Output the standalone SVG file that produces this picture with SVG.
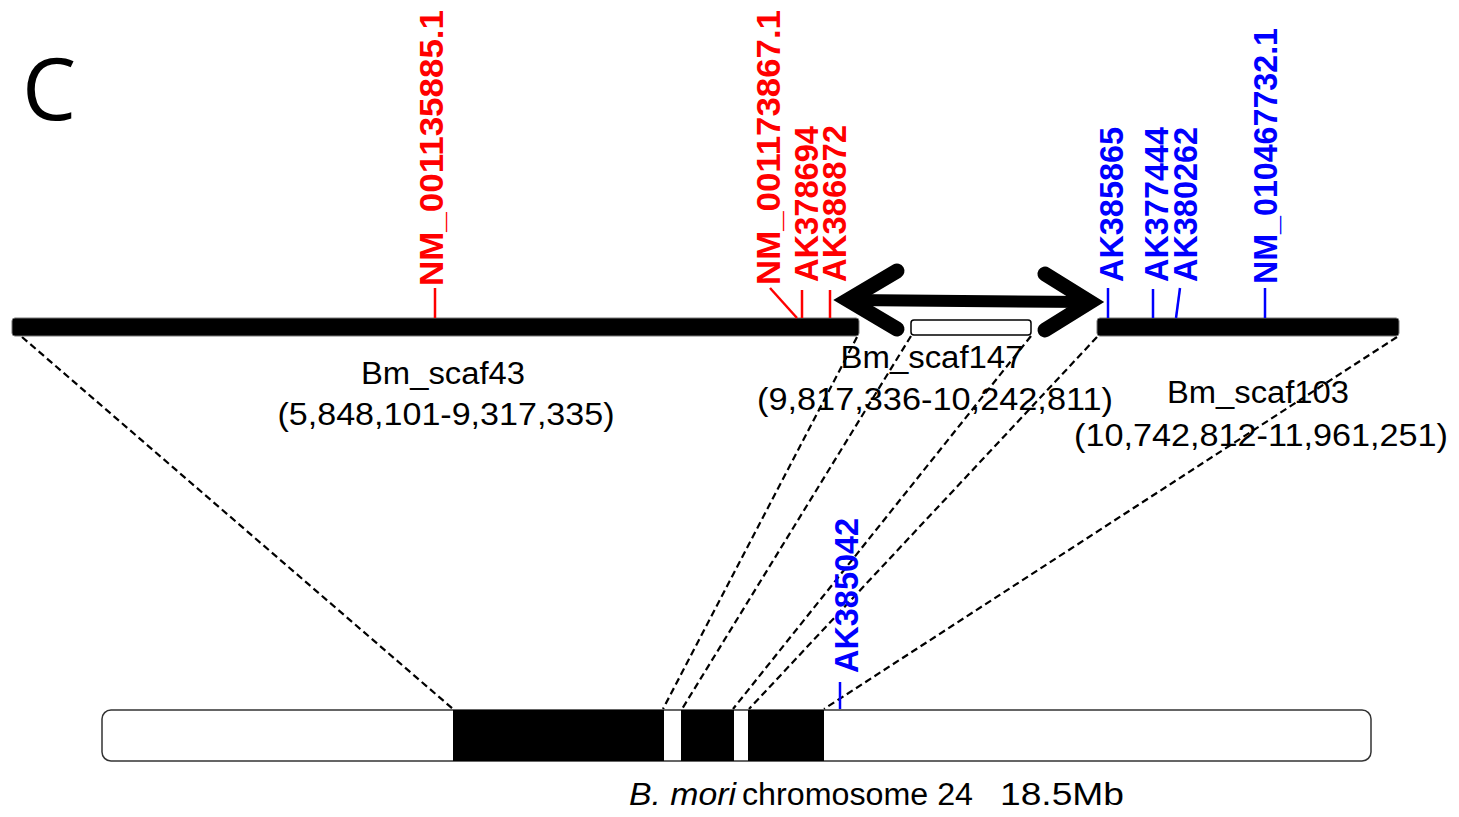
<svg xmlns="http://www.w3.org/2000/svg" width="1459" height="817" viewBox="0 0 1459 817">
  <defs>
    <style>
      .bar { fill: #000; stroke: #777; stroke-width: 1; }
      .link { fill: none; stroke: #000; stroke-width: 2.2; stroke-dasharray: 7 4; }
      .tick-r { stroke: #ff0000; stroke-width: 2.5; fill: none; }
      .tick-b { stroke: #0000ff; stroke-width: 2.5; fill: none; }
      .gene { font-family: "Liberation Sans", Arial, sans-serif; font-weight: bold; font-size: 34px; }
      .red { fill: #ff0000; }
      .blue { fill: #0000ff; }
      .lbl { font-family: "Liberation Sans", Arial, sans-serif; font-size: 31px; fill: #000; }
    </style>
  </defs>

  <rect width="1459" height="817" fill="#fff"/>

  <!-- panel letter -->
  <text x="22" y="120" font-family="Open Sans, Liberation Sans, sans-serif" font-size="86">C</text>

  <!-- dashed links from scaffolds to chromosome -->
  <g id="connectors">
    <line class="link" x1="22" y1="337" x2="453" y2="709"/>
    <line class="link" x1="857" y1="337" x2="663" y2="709"/>
    <line class="link" x1="911" y1="336" x2="682" y2="709"/>
    <line class="link" x1="1031" y1="336" x2="733" y2="709"/>
    <line class="link" x1="1097" y1="337" x2="749" y2="709"/>
    <line class="link" x1="1397" y1="337" x2="824" y2="709"/>
  </g>

  <!-- scaffold 43 -->
  <g id="scaf43">
    <rect class="bar" x="12" y="318" width="847" height="18" rx="3"/>
    <text class="lbl" x="443" y="384" text-anchor="middle" textLength="164" lengthAdjust="spacingAndGlyphs">Bm_scaf43</text>
    <text class="lbl" x="446" y="425" text-anchor="middle" textLength="337" lengthAdjust="spacingAndGlyphs">(5,848,101-9,317,335)</text>
  </g>

  <!-- scaffold 147 -->
  <g id="scaf147">
    <rect x="911" y="320" width="120" height="15" rx="3" fill="#fff" stroke="#000" stroke-width="1.5"/>
    <text class="lbl" x="932" y="368" text-anchor="middle" textLength="183" lengthAdjust="spacingAndGlyphs">Bm_scaf147</text>
    <text class="lbl" x="935" y="410" text-anchor="middle" textLength="356" lengthAdjust="spacingAndGlyphs">(9,817,336-10,242,811)</text>
  </g>

  <!-- scaffold 103 -->
  <g id="scaf103">
    <rect class="bar" x="1097" y="318" width="302" height="18" rx="3"/>
    <text class="lbl" x="1258" y="403" text-anchor="middle" textLength="182" lengthAdjust="spacingAndGlyphs">Bm_scaf103</text>
    <text class="lbl" x="1261" y="446" text-anchor="middle" textLength="374" lengthAdjust="spacingAndGlyphs">(10,742,812-11,961,251)</text>
  </g>

  <!-- double-headed arrow -->
  <g id="gap-arrow" stroke="#000" fill="none">
    <line x1="850" y1="300" x2="1088" y2="302" stroke-width="12"/>
    <polyline points="897,271 848,300 897,329" stroke-width="15" stroke-linecap="round" stroke-linejoin="miter"/>
    <polyline points="1045,274 1090,302 1045,330" stroke-width="15" stroke-linecap="round" stroke-linejoin="miter"/>
  </g>

  <!-- genes on scaffold 43 (red) -->
  <g id="genes-red">
    <line class="tick-r" x1="435" y1="288" x2="435" y2="318"/>
    <text class="gene red" transform="translate(443,286) rotate(-90)" textLength="276" lengthAdjust="spacingAndGlyphs">NM_001135885.1</text>

    <line class="tick-r" x1="770" y1="288" x2="797" y2="318"/>
    <text class="gene red" transform="translate(780,285) rotate(-90)" textLength="275" lengthAdjust="spacingAndGlyphs">NM_001173867.1</text>

    <line class="tick-r" x1="802" y1="290" x2="802" y2="318"/>
    <text class="gene red" transform="translate(818,282) rotate(-90)" textLength="156" lengthAdjust="spacingAndGlyphs">AK378694</text>

    <line class="tick-r" x1="830" y1="290" x2="830" y2="318"/>
    <text class="gene red" transform="translate(846,282) rotate(-90)" textLength="157" lengthAdjust="spacingAndGlyphs">AK386872</text>
  </g>

  <!-- genes on scaffold 103 (blue) -->
  <g id="genes-blue">
    <line class="tick-b" x1="1108" y1="288" x2="1108" y2="318"/>
    <text class="gene blue" transform="translate(1123,282) rotate(-90)" textLength="155" lengthAdjust="spacingAndGlyphs">AK385865</text>

    <line class="tick-b" x1="1153" y1="289" x2="1153" y2="318"/>
    <text class="gene blue" transform="translate(1168,282) rotate(-90)" textLength="155" lengthAdjust="spacingAndGlyphs">AK377444</text>

    <line class="tick-b" x1="1180" y1="288" x2="1176" y2="318"/>
    <text class="gene blue" transform="translate(1197,282) rotate(-90)" textLength="155" lengthAdjust="spacingAndGlyphs">AK380262</text>

    <line class="tick-b" x1="1265" y1="288" x2="1265" y2="318"/>
    <text class="gene blue" transform="translate(1277,284) rotate(-90)" textLength="256" lengthAdjust="spacingAndGlyphs">NM_010467732.1</text>
  </g>

  <!-- chromosome 24 -->
  <g id="chromosome">
    <rect x="102" y="710" width="1269" height="51" rx="9" fill="#fff" stroke="#333" stroke-width="1.5"/>
    <rect x="453" y="710" width="211" height="51" fill="#000"/>
    <rect x="681" y="710" width="53" height="51" fill="#000"/>
    <rect x="748" y="710" width="76" height="51" fill="#000"/>
    <line class="tick-b" x1="840" y1="682" x2="840" y2="709"/>
    <text class="gene blue" transform="translate(858,673) rotate(-90)" textLength="155" lengthAdjust="spacingAndGlyphs">AK385042</text>
    <text class="lbl" x="629" y="805" font-style="italic" textLength="107" lengthAdjust="spacingAndGlyphs">B. mori</text>
    <text class="lbl" x="742" y="805" textLength="231" lengthAdjust="spacingAndGlyphs">chromosome 24</text>
    <text class="lbl" x="1124" y="805" text-anchor="end" textLength="124" lengthAdjust="spacingAndGlyphs">18.5Mb</text>
  </g>
</svg>
